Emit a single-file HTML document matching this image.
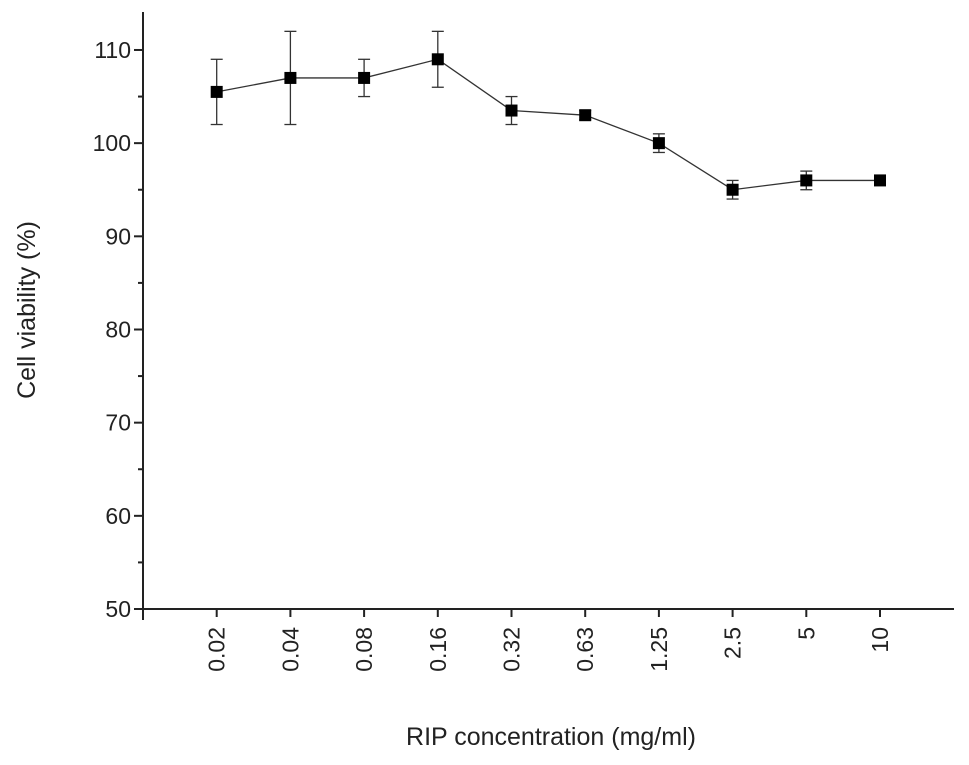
<!DOCTYPE html>
<html><head><meta charset="utf-8"><style>
body{margin:0;background:#fff}
svg{display:block;font-family:"Liberation Sans",Arial,sans-serif}
</style></head><body>
<svg id="chart" width="969" height="765">
<g id="axes"></g><g id="marks"></g>
<text x="551" y="745" font-size="25" text-anchor="middle" fill="#222">RIP concentration (mg/ml)</text>
<text transform="translate(35,310) rotate(-90)" font-size="25" text-anchor="middle" fill="#222">Cell viability (%)</text>
</svg>
<script>
const categories=["0.02","0.04","0.08","0.16","0.32","0.63","1.25","2.5","5","10"];
const values=[105.5,107,107,109,103.5,103,100,95,96,96];
const errLow=[102,102,105,106,102,102.5,99,94,95,95.5];
const errHigh=[109,112,109,112,105,103.5,101,96,97,96.5];
const yTicks=[50,60,70,80,90,100,110];
const NS="http://www.w3.org/2000/svg";
const X0=143,Y0=609,step=73.7;
const xs=i=>X0+step*(i+1);
const ys=v=>Y0-(v-50)*9.317;
function mk(tag,attrs,parent,text){const e=document.createElementNS(NS,tag);for(const k in attrs)e.setAttribute(k,attrs[k]);if(text!==undefined)e.textContent=text;parent.appendChild(e);return e;}
const ax=document.getElementById('axes'),mg=document.getElementById('marks');
let a=mk('line',{x1:X0,y1:12,x2:X0,y2:620,stroke:'#222','stroke-width':2},ax);


a=mk('line',{x1:X0-1,y1:Y0,x2:954,y2:Y0,stroke:'#222','stroke-width':2},ax);


yTicks.forEach(v=>{const y=ys(v);
 let t=mk('line',{x1:X0-9,y1:y,x2:X0,y2:y,stroke:'#222','stroke-width':2},ax);
 
 
 let l=mk('text',{x:X0-12,y:y+8,'font-size':23,'text-anchor':'end',fill:'#222'},ax,v);
 
 
 if(v<110){let m=mk('line',{x1:X0-5,y1:ys(v+5),x2:X0,y2:ys(v+5),stroke:'#222','stroke-width':2},ax);
 
 }
});
categories.forEach((c,i)=>{const x=xs(i);
 let t=mk('line',{x1:x,y1:Y0,x2:x,y2:Y0+8,stroke:'#222','stroke-width':2},ax);
 
 
 let l=mk('text',{transform:`translate(${x+8},${Y0+18}) rotate(-90)`,'font-size':23,'text-anchor':'end',fill:'#222'},ax,c);
 
 
});
let pl=mk('polyline',{points:values.map((v,i)=>xs(i)+','+ys(v)).join(' '),fill:'none',stroke:'#333','stroke-width':1.3},mg);


values.forEach((v,i)=>{const x=xs(i);
 const g=mk('g',{},mg);
 
 
 const y1=ys(errHigh[i]),y2=ys(errLow[i]);
 mk('line',{x1:x,y1:y1,x2:x,y2:y2,stroke:'#333','stroke-width':1.3},g);
 mk('line',{x1:x-6,y1:y1,x2:x+6,y2:y1,stroke:'#333','stroke-width':1.3},g);
 mk('line',{x1:x-6,y1:y2,x2:x+6,y2:y2,stroke:'#333','stroke-width':1.3},g);
 const r=mk('rect',{x:x-6,y:ys(v)-6,width:12,height:12,fill:'#000'},mg);
 
 
});
</script>
</body></html>
